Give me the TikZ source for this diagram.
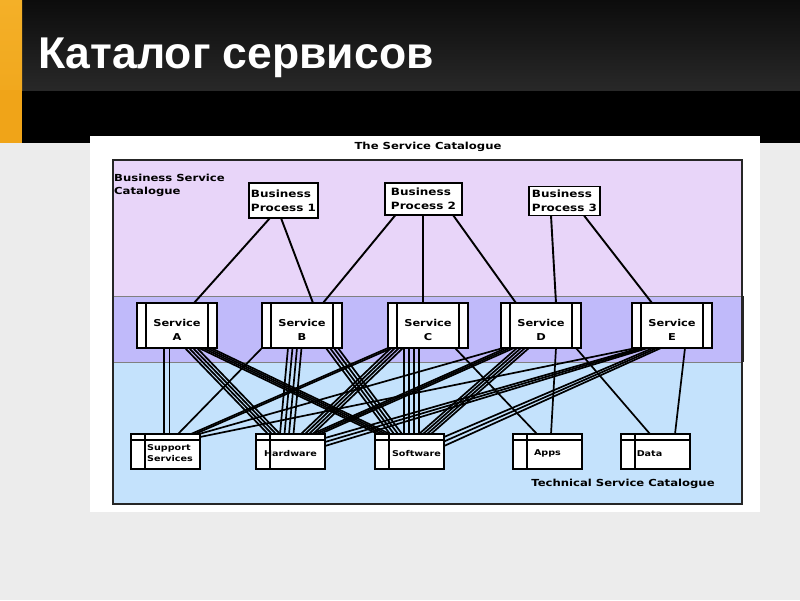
\documentclass[tikz,border=0pt]{standalone}
\usepackage{fontspec}
\setmainfont{Liberation Sans}
\newfontfamily\titlefont{Liberation Sans}
\newfontfamily\diagfont[FakeStretch=1.2]{DejaVu Sans}
\usetikzlibrary{calc}
\pgfdeclarelayer{bg}
\pgfdeclarelayer{wires}
\pgfsetlayers{bg,wires,main}
\definecolor{pagegray}{RGB}{236,236,236}
\definecolor{hdrtop}{RGB}{12,12,12}
\definecolor{hdrbot}{RGB}{40,40,40}
\definecolor{orangeT}{RGB}{244,176,40}
\definecolor{orangeM}{RGB}{241,168,30}
\definecolor{orangeB}{RGB}{240,164,24}
\definecolor{lav}{RGB}{232,213,249}
\definecolor{peri}{RGB}{192,186,250}
\definecolor{sky}{RGB}{196,226,252}
\newcommand\wire[6]{%
  \foreach \k in {1,...,#5}{%
    \draw[wire] ([xshift={#2+(\k-1)*#6}]#1.south west) -- ([xshift={#4+(\k-1)*#6}]#3.north west);}}
\newcommand\svctext[1]{\rule{0pt}{16pt}Service\\#1}
\begin{document}
\begin{tikzpicture}[x=1pt,y=-1pt,
  lbl/.style={font=\diagfont\bfseries\fontsize{9.7}{13}\selectfont, inner sep=0},
  bpbox/.style={draw=black, line width=1.7pt, fill=white, inner sep=0, outer sep=0, align=left,
    font=\diagfont\bfseries\fontsize{10}{14}\selectfont},
  svcbox/.style={draw=black, line width=1.6pt, fill=white, minimum width=80pt, minimum height=45pt,
    inner sep=0, outer sep=0, align=center, font=\diagfont\bfseries\fontsize{9.5}{14}\selectfont,
    path picture={
      \draw[line width=1.5pt] ([xshift=9pt]path picture bounding box.north west) -- ([xshift=9pt]path picture bounding box.south west);
      \draw[line width=1.5pt] ([xshift=-9pt]path picture bounding box.north east) -- ([xshift=-9pt]path picture bounding box.south east);}},
  techbox/.style={draw=black, line width=1.6pt, fill=white, minimum width=69pt, minimum height=35pt,
    inner sep=0, outer sep=0, align=left, font=\diagfont\bfseries\fontsize{8}{10.5}\selectfont,
    path picture={
      \draw[line width=1.3pt] ([yshift=-6pt]path picture bounding box.north west) -- ([yshift=-6pt]path picture bounding box.north east);
      \draw[line width=1.5pt] ([xshift=14pt]path picture bounding box.north west) -- ([xshift=14pt]path picture bounding box.south west);}},
  wire/.style={draw=black, line width=1.7pt},
  bpline/.style={draw=black, line width=1.9pt}]
\useasboundingbox (0,0) rectangle (800,600);
\begin{pgfonlayer}{bg}
  \fill[pagegray] (0,0) rectangle (800,600);
  \fill[black] (0,0) rectangle (800,143);
  \shade[top color=hdrtop, bottom color=hdrbot] (22,0) rectangle (800,90);
  \shade[top color=orangeT, bottom color=orangeM] (0,0) rectangle (22,90);
  \fill[orangeB] (0,90) rectangle (22,143);
  \fill[white] (90,136) rectangle (760,512);
  \fill[lav] (113,160) rectangle (742,296);
  \fill[peri] (113,296) rectangle (743,362);
  \fill[sky] (113,362) rectangle (742,504);
  \draw[black!50, line width=0.6pt] (113,296) -- (742,296) (113,362) -- (742,362);
  \draw[black!85, line width=1.7pt] (113,160) rectangle (742,504);
  \draw[black!85, line width=2.2pt] (743,296) -- (743,362);
\end{pgfonlayer}

\node[anchor=base west, text=white, font=\titlefont\bfseries\fontsize{44.5}{50}\selectfont, inner sep=0] (title) at (38,68) {Каталог сервисов};

\node[lbl] (cat) at (428,147) {The Service Catalogue};
\node[lbl, anchor=north west, align=left] (bsc) at (114,174) {Business Service\\Catalogue};
\node[lbl] (tsc) at (623,484) {Technical Service Catalogue};

\node[bpbox, minimum width=69pt, minimum height=35pt] (bp1) at (283.5,200.5) {Business\\Process 1};
\node[bpbox, minimum width=77pt, minimum height=32pt] (bp2) at (423.5,199) {Business\\Process 2};
\node[bpbox, minimum width=71pt, minimum height=29pt] (bp3) at (564.5,201) {Business\\Process 3};

\node[svcbox] (sA) at (177,325.5) {\svctext{A}};
\node[svcbox] (sB) at (302,325.5) {\svctext{B}};
\node[svcbox] (sC) at (428,325.5) {\svctext{C}};
\node[svcbox] (sD) at (541,325.5) {\svctext{D}};
\node[svcbox] (sE) at (672,325.5) {\svctext{E}};

\node[techbox] (sup) at (165.5,451.5) {\rule{0pt}{9pt}\hspace*{9pt}Support\\\hspace*{9pt}Services};
\node[techbox] (hw) at (290.5,451.5) {\rule{0pt}{10pt}Hardware};
\node[techbox] (sw) at (409.5,451.5) {\rule{0pt}{10pt}\hspace*{14pt}Software};
\node[techbox] (apps) at (547.5,451.5) {\rule{0pt}{10pt}Apps};
\node[techbox] (data) at (655.5,451.5) {\rule{0pt}{10pt}Data\hspace*{12pt}};

\begin{pgfonlayer}{wires}
  % business processes to services
  \draw[bpline] ([xshift=-13.5pt]bp1.south) -- ([xshift=17pt]sA.north);
  \draw[bpline] ([xshift=-2.5pt]bp1.south) -- ([xshift=11pt]sB.north);
  \draw[bpline] ([xshift=-28pt]bp2.south) -- ([xshift=21pt]sB.north);
  \draw[bpline] ([xshift=-0.5pt]bp2.south) -- ([xshift=-5pt]sC.north);
  \draw[bpline] ([xshift=29.5pt]bp2.south) -- ([xshift=-25pt]sD.north);
  \draw[bpline] ([xshift=-13.5pt]bp3.south) -- ([xshift=15pt]sD.north);
  \draw[bpline] ([xshift=19.5pt]bp3.south) -- ([xshift=-20pt]sE.north);
  % services to technical services
  \wire{sA}{27}{sup}{33}{2}{5.5}
  \wire{sA}{48}{hw}{12}{4}{4}
  \wire{sA}{62}{sw}{3}{4}{4}
  \wire{sB}{0}{sup}{47}{1}{3}
  \wire{sB}{26}{hw}{24}{4}{4.5}
  \wire{sB}{64}{sw}{15}{4}{4}
  \wire{sC}{0}{sup}{60}{2}{4}
  \wire{sC}{3}{hw}{45}{4}{4}
  \wire{sC}{16}{sw}{29}{4}{5}
  \wire{sC}{67}{apps}{24}{1}{3}
  \wire{sD}{2}{sup}{68}{1}{3}
  \wire{sD}{5}{hw}{56}{3}{4}
  \wire{sD}{16}{sw}{44}{4}{4}
  \wire{sD}{55}{apps}{38}{1}{3}
  \wire{sD}{75}{data}{29}{1}{3}
  \wire{sE}{53}{data}{54}{1}{3}
  \draw[wire] ([xshift=4pt]sE.south west) -- ([yshift=-3pt]sup.north east);
  \foreach \k in {0,1,2}{
    \draw[wire] ([xshift={8+4*\k}]sE.south west) -- ([yshift={-4-4*\k}]hw.north east);
    \draw[wire] ([xshift={21+4*\k}]sE.south west) -- ([yshift={-3-4.5*\k}]sw.north east);
  }
\end{pgfonlayer}
\end{tikzpicture}
\end{document}
